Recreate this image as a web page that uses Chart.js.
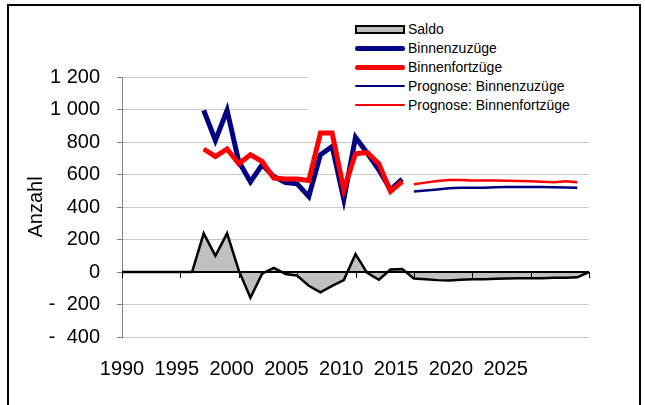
<!DOCTYPE html>
<html>
<head>
<meta charset="utf-8">
<script src="https://cdn.jsdelivr.net/npm/chart.js@4/dist/chart.umd.min.js"></script>
<style>
  html, body { margin: 0; padding: 0; background: #fff; overflow: hidden; }
  #wrap { position: relative; width: 645px; height: 405px; }
  #frame { position: absolute; left: 7px; top: 4px; width: 630px; height: 440px; border: 2px solid #000; pointer-events: none; }
  #legend { position: absolute; left: 308px; top: 16px; width: 290px; height: 102px; background: #fff;
            font-family: "Liberation Sans", Arial, sans-serif; font-size: 14px; color: #000; }
  .item { position: absolute; left: 0; height: 18px; width: 290px; }
  .swatch { position: absolute; left: 47px; width: 50px; }
  .label { position: absolute; left: 100px; top: 0; line-height: 18px; white-space: nowrap; }
</style>
</head>
<body>
<div id="wrap">
  <canvas id="chart" width="645" height="405"></canvas>
  <div id="legend"></div>
  <div id="frame"></div>
</div>
<script>
// Saldo, 1990 - 2030
const saldoYears = [1990, 1991, 1992, 1993, 1994, 1995, 1996, 1997, 1998, 1999,
                    2000, 2001, 2002, 2003, 2004, 2005, 2006, 2007, 2008, 2009,
                    2010, 2011, 2012, 2013, 2014, 2015, 2016, 2017, 2018, 2019,
                    2020, 2021, 2022, 2023, 2024, 2025, 2026, 2027, 2028, 2029, 2030];
const saldo = [0, 0, 0, 0, 0, 0, 0, 238, 100, 238,
               10, -158, -10, 25, -12, -22, -85, -125, -85, -50,
               110, -5, -48, 15, 18, -40, -45, -50, -52, -48,
               -45, -44, -42, -40, -39, -39, -38, -36, -35, -33, 0];

// observed movements, 1997 - 2014
const obsYears = [1997, 1998, 1999, 2000, 2001, 2002, 2003, 2004, 2005,
                  2006, 2007, 2008, 2009, 2010, 2011, 2012, 2013, 2014];
const zuzuege = [995, 810, 995, 680, 555, 660, 588, 551, 543,
                 465, 722, 773, 448, 829, 732, 629, 506, 572];
const fortzuege = [757, 711, 757, 666, 722, 680, 578, 572, 572,
                   563, 855, 855, 506, 728, 736, 666, 496, 557];

// forecast, 2015 - 2029
const progYears = [2015, 2016, 2017, 2018, 2019, 2020, 2021, 2022,
                   2023, 2024, 2025, 2026, 2027, 2028, 2029];
const progZuzuege = [496, 502, 508, 515, 518, 518, 518, 521,
                     523, 523, 523, 523, 522, 520, 519];
const progFortzuege = [540, 550, 560, 566, 566, 563, 563, 563,
                       562, 560, 558, 556, 553, 558, 553];

const xTicks = [1990, 1995, 2000, 2005, 2010, 2015, 2020, 2025, 2030];
const xLabels = [1990, 1995, 2000, 2005, 2010, 2015, 2020, 2025];

const axisFont = { family: '"Liberation Sans", Arial, sans-serif', size: 20 };

function pts(xs, ys) {
    return xs.map((x, i) => ({ x: x, y: ys[i] }));
}

function fmtY(v) {
    const s = Math.abs(v).toString().replace(/\B(?=(\d{3})+(?!\d))/g, ' ');
    return v < 0 ? '-  ' + s : s;
}

// zero axis with its tick marks drawn on top of the area
const zeroAxis = {
    id: 'zeroAxis',
    afterDatasetsDraw(chart) {
        const { ctx, chartArea, scales: { x, y } } = chart;
        const y0 = y.getPixelForValue(0);
        ctx.save();
        ctx.strokeStyle = '#000';
        ctx.lineWidth = 1;
        xTicks.forEach(v => {
            const px = Math.round(x.getPixelForValue(v)) + 0.5;
            ctx.beginPath();
            ctx.moveTo(px, y0);
            ctx.lineTo(px, y0 + 6);
            ctx.stroke();
        });
        ctx.lineWidth = 2;
        ctx.beginPath();
        ctx.moveTo(chartArea.left, y0);
        ctx.lineTo(chartArea.right, y0);
        ctx.stroke();
        ctx.restore();
    }
};

const chart = new Chart(document.getElementById('chart'), {
    type: 'line',
    data: {
        datasets: [
            { label: 'Saldo', data: pts(saldoYears, saldo), borderColor: '#000', borderWidth: 2.5,
              backgroundColor: '#c0c0c0', fill: 'origin', order: 5 },
            { label: 'Binnenzuzüge', data: pts(obsYears, zuzuege), borderColor: '#000080', borderWidth: 5,
              fill: false, order: 4 },
            { label: 'Binnenfortzüge', data: pts(obsYears, fortzuege), borderColor: '#ff0000', borderWidth: 5,
              fill: false, order: 3 },
            { label: 'Prognose: Binnenzuzüge', data: pts(progYears, progZuzuege), borderColor: '#000080', borderWidth: 2.5,
              fill: false, order: 2 },
            { label: 'Prognose: Binnenfortzüge', data: pts(progYears, progFortzuege), borderColor: '#ff0000', borderWidth: 2.5,
              fill: false, order: 1 }
        ]
    },
    options: {
        responsive: false,
        animation: false,
        elements: { point: { radius: 0 }, line: { tension: 0 } },
        layout: { padding: { top: 77, right: 56, left: 0, bottom: 0 } },
        plugins: { legend: { display: false }, tooltip: { enabled: false } },
        scales: {
            x: { type: 'linear', min: 1990, max: 2030, display: false },
            xl: {
                type: 'linear', position: 'bottom', min: 1990, max: 2032.6,
                grid: { display: false, drawTicks: false },
                border: { display: false },
                ticks: {
                    stepSize: 5, includeBounds: false, autoSkip: false, maxRotation: 0,
                    padding: 20, color: '#000', font: axisFont,
                    callback: v => xLabels.includes(v) ? String(v) : ''
                },
                afterFit: s => { s.height = 68; }
            },
            y: {
                min: -400, max: 1200,
                ticks: { stepSize: 200, padding: 17, color: '#000', font: axisFont, callback: fmtY },
                grid: {
                    color: c => c.tick && c.tick.value === 0 ? '#000' : '#c8c8c8',
                    tickLength: 5, tickColor: '#808080'
                },
                border: { color: '#808080' },
                title: { display: true, text: 'Anzahl', color: '#000', font: axisFont, padding: { top: 24, bottom: 0 } },
                afterFit: s => { s.width = 122; }
            }
        }
    },
    plugins: [zeroAxis]
});

// legend built from the datasets
const legend = document.getElementById('legend');
chart.data.datasets.forEach((ds, i) => {
    const item = document.createElement('div');
    item.className = 'item';
    item.style.top = (4 + i * 19) + 'px';
    const sw = document.createElement('div');
    sw.className = 'swatch';
    if (ds.fill === 'origin') {
        sw.style.top = '5px';
        sw.style.height = '5px';
        sw.style.width = '46px';
        sw.style.background = ds.backgroundColor;
        sw.style.border = '2px solid ' + ds.borderColor;
    } else {
        sw.style.top = (9 - ds.borderWidth / 2) + 'px';
        sw.style.height = ds.borderWidth + 'px';
        sw.style.background = ds.borderColor;
        sw.style.borderRadius = ds.borderWidth + 'px';
    }
    const lab = document.createElement('div');
    lab.className = 'label';
    lab.textContent = ds.label;
    item.appendChild(sw);
    item.appendChild(lab);
    legend.appendChild(item);
});
</script>
</body>
</html>
